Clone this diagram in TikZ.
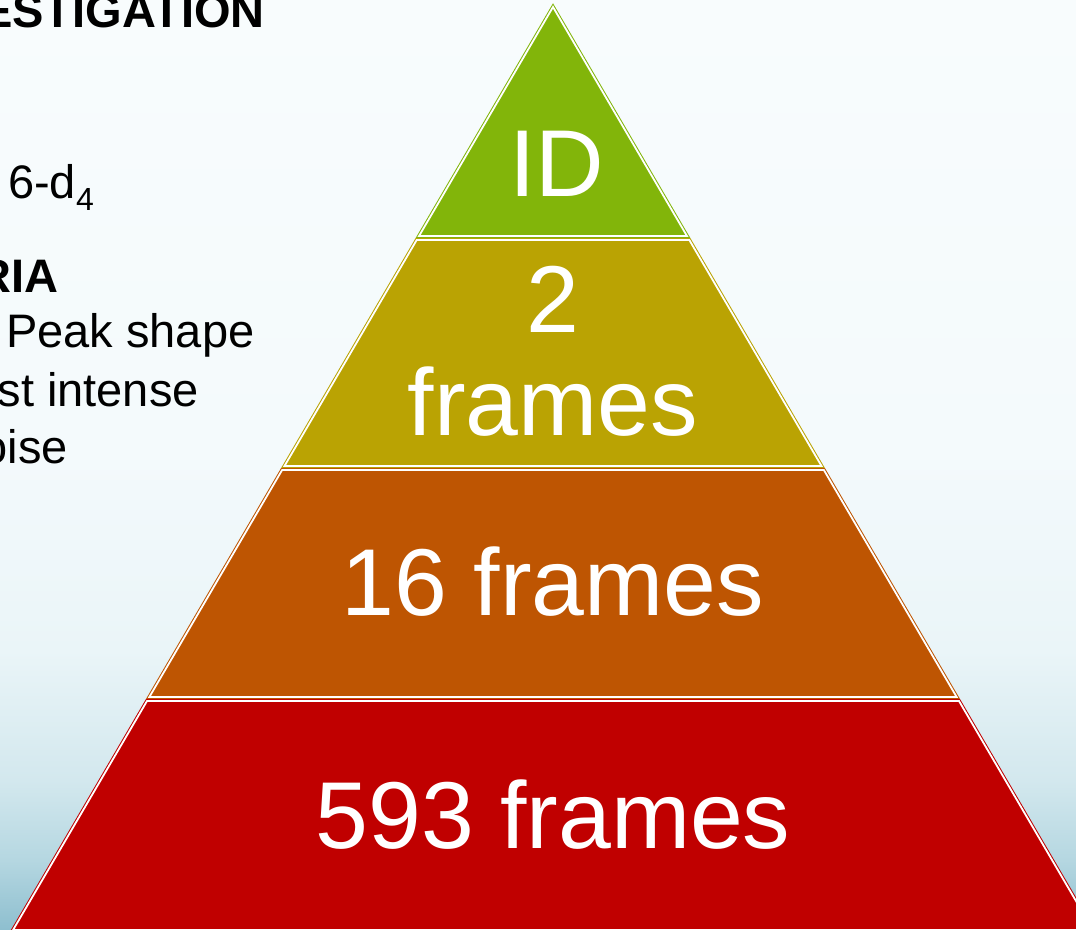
\documentclass[tikz,border=0pt]{standalone}
\usepackage{fontspec}
\setmainfont{Liberation Sans}

\definecolor{tierA}{HTML}{82B50A}
\definecolor{tierB}{HTML}{BAA303}
\definecolor{tierC}{HTML}{BE5502}
\definecolor{tierD}{HTML}{C00000}
\definecolor{bgA}{HTML}{8EBFCF}
\definecolor{bgB}{HTML}{B5D7E1}
\definecolor{bgC}{HTML}{D3E8EE}
\definecolor{bgD}{HTML}{EAF5F8}
\definecolor{bgE}{HTML}{F4FAFC}
\definecolor{bgF}{HTML}{F8FCFD}

% soft sky-blue backdrop, darker towards the bottom
\pgfdeclareverticalshading{backdrop}{100bp}{%
  color(0bp)=(bgA); color(25bp)=(bgA); color(28.7bp)=(bgB);
  color(33bp)=(bgC); color(40bp)=(bgD); color(50.8bp)=(bgE);
  color(75bp)=(bgF); color(100bp)=(bgF)}

\tikzset{
  tier/.style={fill=#1, draw=#1, double=white, double distance=1.8pt,
               line width=1pt, line join=miter},
  bigtext/.style={text=white, inner sep=0pt, anchor=base,
                  font=\fontsize{95}{103}\selectfont},
  sidetext/.style={text=black, inner sep=0pt,
                   font=\fontsize{47}{56}\selectfont},
  sidehead/.style={sidetext, font=\fontsize{47}{56}\selectfont\bfseries},
}

% left and right flanks of the pyramid, apex at (553,7)
\newcommand{\lx}[1]{{553-0.585*(#1-7)}}
\newcommand{\rx}[1]{{553+0.585*(#1-7)}}

\begin{document}
\begin{tikzpicture}[x=1pt,y=-1pt]
  \useasboundingbox (0,0) rectangle (1076,929);
  \clip (0,0) rectangle (1076,929);
  \shade[shading=backdrop] (0,0) rectangle (1076,929);

  % side notes (partly outside the page on the left)
  \node[sidehead, anchor=base east] (headA) at (265,27) {ESTIGATION};
  \node[sidetext, anchor=base west] (compound) at (8,198)
       {6-d\raisebox{-12pt}{\fontsize{32}{32}\selectfont 4}};
  \node[sidehead, anchor=base east] (headB) at (59,292) {RIA};
  \node[sidetext, anchor=base west] (critA) at (6,347) {Peak shape};
  \node[sidetext, anchor=base east] (critB) at (199,406) {st intense};
  \node[sidetext, anchor=base east] (critC) at (68,463) {oise};

  % pyramid tiers
  \path[tier=tierA] (553,7) -- (\rx{236},236) -- (\lx{236},236) -- cycle;
  \path[tier=tierB] (\lx{240},240) -- (\rx{240},240) -- (\rx{466},466) -- (\lx{466},466) -- cycle;
  \path[tier=tierC] (\lx{470},470) -- (\rx{470},470) -- (\rx{697},697) -- (\lx{697},697) -- cycle;
  \path[tier=tierD] (\lx{701},701) -- (\rx{701},701) -- (\rx{930},930) -- (\lx{930},930) -- cycle;

  % tier labels
  \node[bigtext] (lblA) at (557,196) {ID};
  \node[bigtext] (lblBnum) at (553,332) {2};
  \node[bigtext] (lblBword) at (553,435) {frames};
  \node[bigtext] (lblC) at (553,615) {16 frames};
  \node[bigtext] (lblD) at (553,848) {593 frames};
\end{tikzpicture}
\end{document}
